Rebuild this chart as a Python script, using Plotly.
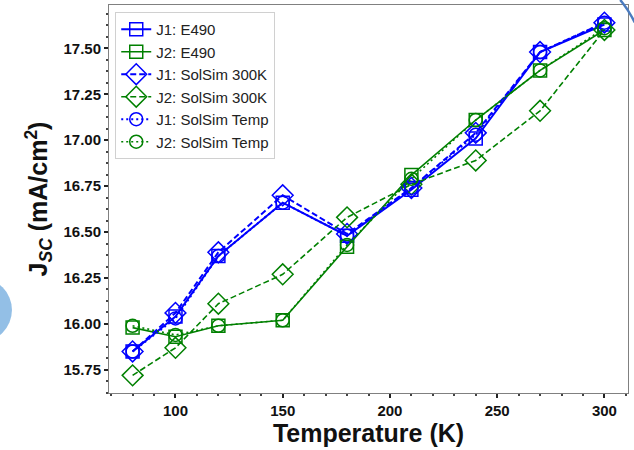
import plotly.graph_objects as go

temperature = [80, 100, 120, 150, 180, 210, 240, 270, 300]

j1_e490 = [15.85, 16.04, 16.37, 16.66, 16.48, 16.73, 17.01, 17.48, 17.63]
j2_e490 = [15.98, 15.93, 15.99, 16.02, 16.42, 16.81, 17.11, 17.38, 17.60]
j1_solsim_300k = [15.85, 16.06, 16.39, 16.70, 16.49, 16.74, 17.04, 17.48, 17.64]
j2_solsim_300k = [15.72, 15.87, 16.11, 16.27, 16.58, 16.76, 16.89, 17.16, 17.60]
j1_solsim_temp = [15.85, 16.03, 16.37, 16.66, 16.48, 16.74, 17.03, 17.48, 17.64]
j2_solsim_temp = [15.99, 15.94, 15.99, 16.02, 16.43, 16.79, 17.11, 17.38, 17.61]

x_ticks = [100, 150, 200, 250, 300]
y_ticks = [15.75, 16.00, 16.25, 16.50, 16.75, 17.00, 17.25, 17.50]

BLUE = "#0000ff"
GREEN = "#008000"

series = [
    ("J1: E490", j1_e490, BLUE, "solid", "square-open", 13, 2.0),
    ("J2: E490", j2_e490, GREEN, "solid", "square-open", 13, 1.6),
    ("J1: SolSim 300K", j1_solsim_300k, BLUE, "6px,3px", "diamond-open", 16, 2.0),
    ("J2: SolSim 300K", j2_solsim_300k, GREEN, "6px,3px", "diamond-open", 16, 1.6),
    ("J1: SolSim Temp", j1_solsim_temp, BLUE, "2px,3px", "circle-open", 13, 2.0),
    ("J2: SolSim Temp", j2_solsim_temp, GREEN, "2px,3px", "circle-open", 13, 1.6),
]

fig = go.Figure()
for name, vals, color, dash, symbol, size, lw in series:
    fig.add_trace(go.Scatter(
        x=temperature, y=vals, name=name, mode="lines+markers",
        line=dict(color=color, width=lw, dash=dash),
        marker=dict(symbol=symbol, size=size, color=color, line=dict(width=1.5, color=color)),
    ))

FONT = "Liberation Sans, Arial, sans-serif"

axis_common = dict(
    showgrid=False, zeroline=False, showline=True, linecolor="#808080", linewidth=1,
    mirror=True, ticks="outside", ticklen=4, tickwidth=1.5, tickcolor="#222",
    tickfont=dict(family=FONT, size=15, color="#111", weight="bold"),
)

fig.update_layout(
    width=634, height=450,
    margin=dict(l=109, r=6, t=5, b=57),
    paper_bgcolor="white", plot_bgcolor="white",
    font=dict(family=FONT, color="#111"),
    showlegend=True,
    legend=dict(
        x=0.012, y=0.982, xanchor="left", yanchor="top",
        bgcolor="rgba(255,255,255,0.85)", bordercolor="#d0d0d0", borderwidth=1,
        font=dict(family=FONT, size=15, color="#222"),
        tracegroupgap=0, itemwidth=30,
    ),
    xaxis=dict(
        **axis_common,
        range=[69, 311], tickvals=x_ticks,
        minor=dict(dtick=10, tick0=0, ticks="outside", ticklen=2, tickcolor="#444"),
        title=dict(text="Temperature (K)", font=dict(family=FONT, size=25, color="#111", weight="bold"), standoff=4),
    ),
    yaxis=dict(
        **axis_common,
        range=[15.624, 17.736], tickvals=y_ticks, tickformat=".2f",
        minor=dict(dtick=0.0625, tick0=15.75, ticks="outside", ticklen=2, tickcolor="#444"),
        title=dict(text="J<sub><i>SC</i></sub> (mA/cm<sup>2</sup>)",
                   font=dict(family=FONT, size=25, color="#111", weight="bold"), standoff=8),
    ),
    shapes=[
        dict(type="circle", xref="paper", yref="paper", layer="below",
             x0=-0.31, x1=-0.187, y0=0.1314, y1=0.2964,
             fillcolor="#93bfe6", line=dict(width=0)),
        dict(type="path", xref="paper", yref="paper", layer="above",
             path="M 0.985,1.013 Q 1.0,0.99 1.013,0.955",
             line=dict(color="#4a7bbf", width=2.5)),
    ],
)

fig.write_html("out.html")
